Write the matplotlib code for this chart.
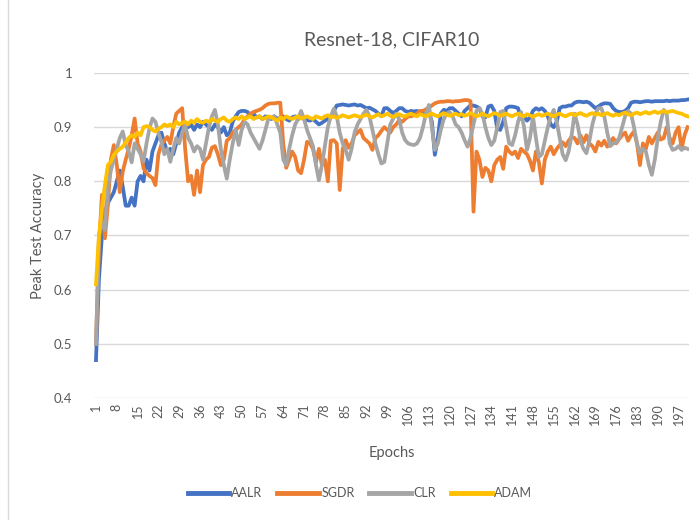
import matplotlib
matplotlib.use("Agg")
import matplotlib.pyplot as plt
from matplotlib.lines import Line2D
import numpy as np

plt.rcParams['font.family'] = ['Lato', 'DejaVu Sans']

epochs = list(range(1, 201))

aalr = [0.47, 0.62, 0.70, 0.74, 0.76, 0.77, 0.78, 0.80, 0.82, 0.79,
        0.755, 0.755, 0.77, 0.755, 0.80, 0.81, 0.80, 0.84, 0.82, 0.855,
        0.87, 0.885, 0.89, 0.87, 0.855, 0.86, 0.85, 0.87, 0.89, 0.90,
        0.905, 0.90, 0.905, 0.895, 0.905, 0.90, 0.91, 0.905, 0.90, 0.895,
        0.905, 0.90, 0.89, 0.90, 0.885, 0.89, 0.91, 0.92, 0.928, 0.93,
        0.93, 0.928, 0.92, 0.925, 0.918, 0.92, 0.915, 0.92, 0.918, 0.915,
        0.92, 0.915, 0.918, 0.92, 0.915, 0.912, 0.918, 0.92, 0.915, 0.918,
        0.915, 0.913, 0.912, 0.915, 0.91, 0.905, 0.908, 0.912, 0.915, 0.918,
        0.93, 0.94, 0.941, 0.942, 0.941, 0.94, 0.941, 0.942, 0.94, 0.941,
        0.938, 0.935, 0.936, 0.933, 0.93, 0.925, 0.92, 0.935, 0.935, 0.93,
        0.926, 0.93, 0.935, 0.935, 0.93, 0.928, 0.93, 0.929, 0.93, 0.927,
        0.93, 0.925, 0.928, 0.91, 0.849, 0.88, 0.925, 0.932, 0.93, 0.935,
        0.935, 0.93, 0.925, 0.92, 0.93, 0.935, 0.94, 0.94, 0.938, 0.935,
        0.92, 0.918, 0.938, 0.94, 0.93, 0.897, 0.895, 0.91, 0.935, 0.938,
        0.938, 0.937, 0.935, 0.915, 0.92, 0.912, 0.918, 0.93, 0.935, 0.932,
        0.935, 0.93, 0.92, 0.905, 0.90, 0.91, 0.935, 0.938, 0.938, 0.94,
        0.94, 0.945, 0.947, 0.947, 0.946, 0.947, 0.945, 0.94, 0.935, 0.938,
        0.942, 0.944, 0.944, 0.943, 0.935, 0.93, 0.928, 0.928, 0.93, 0.935,
        0.945, 0.947, 0.947, 0.946, 0.947, 0.948, 0.948, 0.947, 0.948, 0.948,
        0.948, 0.948, 0.949, 0.948, 0.949, 0.949, 0.949, 0.95, 0.95, 0.951]

sgdr = [0.50, 0.68, 0.775, 0.695, 0.756, 0.84, 0.867, 0.83, 0.78, 0.818,
        0.84, 0.86, 0.885, 0.916, 0.87, 0.855, 0.824, 0.815, 0.81, 0.806,
        0.793, 0.85, 0.868, 0.875, 0.882, 0.87, 0.90, 0.925, 0.93, 0.935,
        0.86, 0.80, 0.81, 0.775, 0.82, 0.78, 0.83, 0.84, 0.845, 0.862,
        0.865, 0.85, 0.83, 0.84, 0.875, 0.88, 0.89, 0.895, 0.90, 0.905,
        0.915, 0.92, 0.925, 0.928, 0.93, 0.932, 0.935, 0.94, 0.943, 0.944,
        0.944, 0.945, 0.945, 0.87, 0.825, 0.84, 0.855, 0.845, 0.82, 0.815,
        0.84, 0.873, 0.87, 0.86, 0.835, 0.86, 0.83, 0.84, 0.80, 0.875,
        0.876, 0.87, 0.784, 0.86, 0.876, 0.862, 0.87, 0.885, 0.89, 0.895,
        0.88, 0.875, 0.87, 0.858, 0.88, 0.885, 0.893, 0.90, 0.895, 0.89,
        0.90, 0.905, 0.913, 0.91, 0.915, 0.92, 0.92, 0.922, 0.925, 0.93,
        0.93, 0.933, 0.936, 0.94, 0.944, 0.946, 0.947, 0.947, 0.948, 0.948,
        0.947, 0.948, 0.948, 0.949, 0.95, 0.95, 0.948, 0.744, 0.855, 0.84,
        0.808, 0.825, 0.82, 0.80, 0.83, 0.84, 0.845, 0.823, 0.864, 0.855,
        0.85, 0.855, 0.843, 0.86, 0.855, 0.85, 0.838, 0.82, 0.855, 0.835,
        0.796, 0.84, 0.855, 0.864, 0.85, 0.86, 0.867, 0.872, 0.865, 0.875,
        0.882, 0.88, 0.87, 0.885, 0.872, 0.885, 0.87, 0.865, 0.855, 0.873,
        0.866, 0.875, 0.864, 0.872, 0.88, 0.87, 0.878, 0.885, 0.89, 0.875,
        0.885, 0.892, 0.87, 0.83, 0.87, 0.86, 0.882, 0.87, 0.88, 0.89,
        0.877, 0.88, 0.90, 0.88, 0.87, 0.89, 0.90, 0.86, 0.885, 0.90]

clr = [0.50, 0.70, 0.725, 0.71, 0.79, 0.82, 0.84, 0.86, 0.88, 0.892,
       0.867, 0.855, 0.835, 0.87, 0.86, 0.85, 0.837, 0.87, 0.898, 0.916,
       0.91, 0.89, 0.873, 0.85, 0.86, 0.836, 0.86, 0.88, 0.87, 0.89,
       0.904, 0.88, 0.87, 0.855, 0.865, 0.86, 0.84, 0.87, 0.90, 0.92,
       0.932, 0.905, 0.86, 0.83, 0.805, 0.84, 0.87, 0.895, 0.867, 0.895,
       0.91, 0.905, 0.89, 0.88, 0.87, 0.86, 0.875, 0.895, 0.916, 0.918,
       0.92, 0.905, 0.89, 0.84, 0.83, 0.86, 0.885, 0.905, 0.915, 0.93,
       0.915, 0.895, 0.88, 0.865, 0.83, 0.802, 0.83, 0.865, 0.90, 0.92,
       0.934, 0.92, 0.89, 0.87, 0.858, 0.84, 0.86, 0.89, 0.905, 0.915,
       0.925, 0.932, 0.92, 0.895, 0.87, 0.85, 0.833, 0.836, 0.87, 0.905,
       0.916, 0.925, 0.915, 0.89, 0.876, 0.87, 0.868, 0.867, 0.87, 0.88,
       0.90, 0.925, 0.941, 0.90, 0.858, 0.87, 0.895, 0.915, 0.925, 0.928,
       0.92, 0.905, 0.90, 0.89, 0.876, 0.864, 0.88, 0.905, 0.93, 0.935,
       0.925, 0.90, 0.88, 0.867, 0.875, 0.90, 0.928, 0.93, 0.90, 0.87,
       0.867, 0.885, 0.91, 0.928, 0.90, 0.858, 0.88, 0.92, 0.88, 0.845,
       0.85, 0.875, 0.90, 0.92, 0.932, 0.91, 0.88, 0.85, 0.839, 0.855,
       0.885, 0.925, 0.905, 0.875, 0.86, 0.852, 0.875, 0.905, 0.925, 0.935,
       0.935, 0.92, 0.89, 0.865, 0.87, 0.872, 0.88, 0.90, 0.92, 0.93,
       0.925, 0.90, 0.87, 0.852, 0.86, 0.855, 0.83, 0.812, 0.84, 0.88,
       0.91, 0.932, 0.925, 0.87, 0.858, 0.86, 0.865, 0.858, 0.862, 0.86]

adam = [0.61, 0.70, 0.75, 0.793, 0.83, 0.836, 0.849, 0.855, 0.86, 0.864,
        0.872, 0.88, 0.885, 0.882, 0.89, 0.885, 0.90, 0.902, 0.90, 0.895,
        0.892, 0.897, 0.90, 0.905, 0.902, 0.905, 0.90, 0.91, 0.905, 0.908,
        0.91, 0.905, 0.912, 0.908, 0.915, 0.91, 0.908, 0.912, 0.91, 0.915,
        0.912, 0.91, 0.915, 0.918, 0.912, 0.91, 0.915, 0.918, 0.915, 0.92,
        0.915, 0.918, 0.92, 0.915, 0.918, 0.92, 0.915, 0.917, 0.92, 0.918,
        0.915, 0.912, 0.918, 0.915, 0.92, 0.917, 0.915, 0.918, 0.92, 0.916,
        0.918, 0.92, 0.917, 0.915, 0.92, 0.918, 0.916, 0.92, 0.922, 0.918,
        0.92, 0.917, 0.919, 0.922, 0.92, 0.918, 0.92, 0.922, 0.92, 0.919,
        0.921, 0.923, 0.92, 0.918, 0.921, 0.924, 0.92, 0.922, 0.925, 0.921,
        0.919, 0.922, 0.924, 0.921, 0.92, 0.923, 0.925, 0.922, 0.92, 0.924,
        0.922, 0.92, 0.923, 0.925, 0.922, 0.92, 0.923, 0.926, 0.923, 0.921,
        0.923, 0.925, 0.922, 0.924, 0.921, 0.923, 0.926, 0.923, 0.92, 0.922,
        0.925, 0.922, 0.92, 0.923, 0.926, 0.924, 0.921, 0.923, 0.925, 0.922,
        0.92, 0.923, 0.925, 0.922, 0.92, 0.924, 0.922, 0.919, 0.922, 0.924,
        0.921, 0.923, 0.925, 0.922, 0.92, 0.923, 0.925, 0.922, 0.92, 0.923,
        0.925, 0.922, 0.924, 0.926, 0.923, 0.921, 0.924, 0.926, 0.923, 0.925,
        0.922, 0.924, 0.926, 0.923, 0.921, 0.924, 0.922, 0.925, 0.927, 0.924,
        0.922, 0.925, 0.927, 0.924, 0.926, 0.928, 0.925, 0.927, 0.929, 0.926,
        0.928, 0.93, 0.927, 0.929, 0.93, 0.928, 0.926, 0.925, 0.922, 0.92]

series = [("AALR", aalr, "#4472C4"), ("SGDR", sgdr, "#ED7D31"),
          ("CLR", clr, "#A5A5A5"), ("ADAM", adam, "#FFC000")]

txt = "#595959"

fig = plt.figure(figsize=(6.89, 5.2), dpi=100)
ax = fig.add_axes([94.5 / 689, 1 - 398 / 520, 1 - 94.5 / 689, (398 - 73) / 520])

for name, vals, col in series:
    ax.plot(epochs, vals, color=col, lw=2.7, label=name, solid_joinstyle='round')

ax.set_xlim(0.5, 200.5)
ax.set_ylim(0.4, 1.0)
ax.set_yticks(np.arange(0.4, 1.01, 0.1))
ax.set_yticklabels(["0.4", "0.5", "0.6", "0.7", "0.8", "0.9", "1"])
ax.set_xticks(range(1, 201, 7))
ax.set_xticklabels([str(e) for e in range(1, 201, 7)], rotation=90)
ax.tick_params(axis='both', length=0, colors=txt, labelsize=9)
ax.tick_params(axis='y', pad=16, labelsize=9.5)
ax.tick_params(axis='x', pad=4)
ax.grid(axis='y', color='#d9d9d9', lw=1)
ax.set_axisbelow(True)
for s in ax.spines.values():
    s.set_visible(False)

ax.set_title("Resnet-18, CIFAR10", color=txt, fontsize=14, pad=20)
ax.set_xlabel("Epochs", color=txt, fontsize=10.5, labelpad=15)
ax.set_ylabel("Peak Test Accuracy", color=txt, fontsize=10.5, labelpad=6)

leg = fig.legend(loc='center', bbox_to_anchor=(360 / 689, 1 - 493 / 520), ncol=4,
                 frameon=False, fontsize=9, handlelength=3.3, handletextpad=0.2,
                 columnspacing=1.2)
for t in leg.get_texts():
    t.set_color(txt)
for h in leg.legend_handles:
    h.set_linewidth(3.5)

fig.add_artist(Line2D([8 / 689, 8 / 689], [0, 1], color='#d9d9d9', lw=1))

fig.savefig("out.png", dpi=100)
